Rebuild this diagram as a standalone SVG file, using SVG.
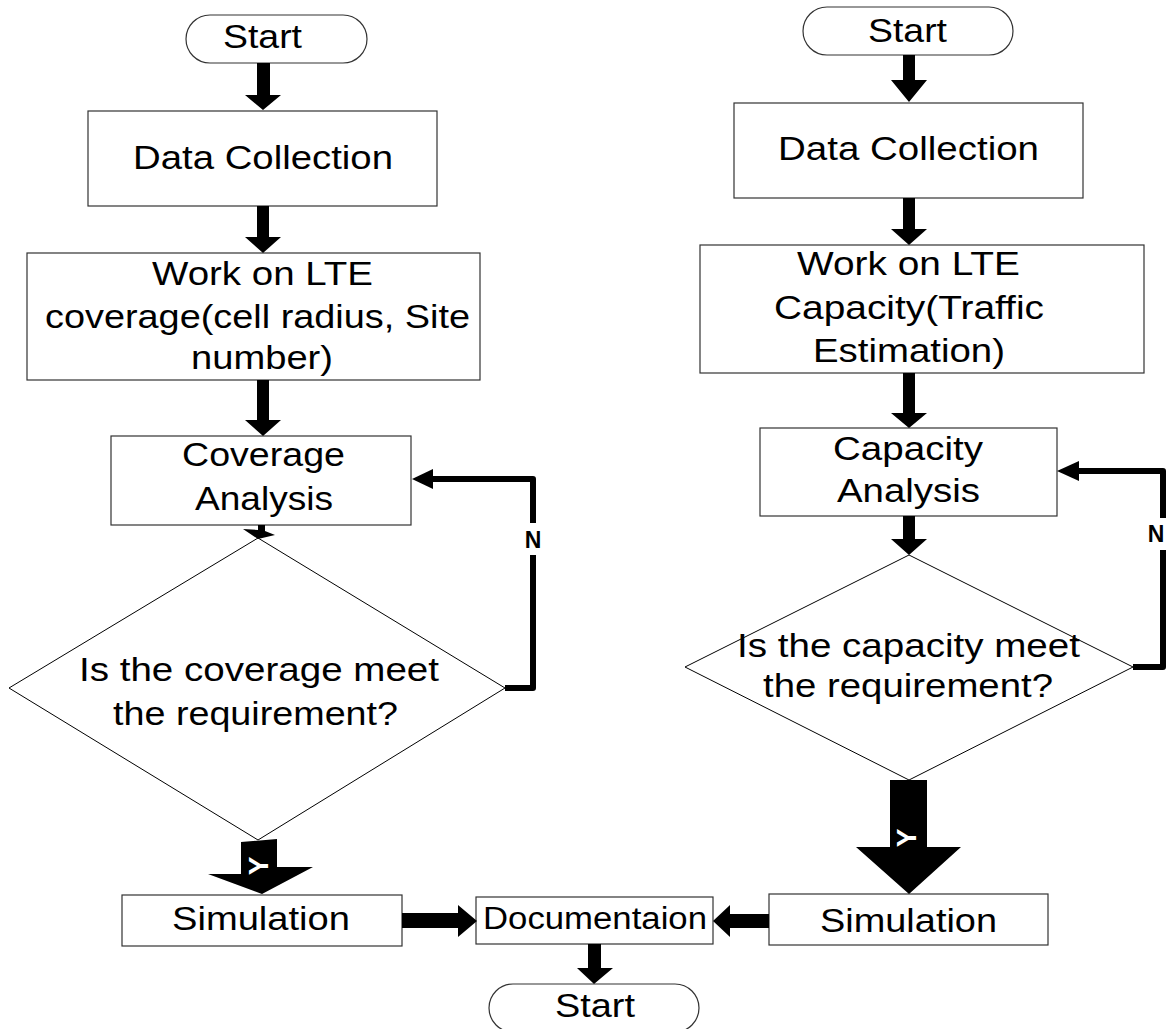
<svg xmlns="http://www.w3.org/2000/svg" width="1166" height="1029" viewBox="0 0 1166 1029">
<style>
.box{fill:#fff;stroke:#333;stroke-width:1.2}
.dia{fill:#fff;stroke:#000;stroke-width:1}
.t{font-family:"Liberation Sans",Arial,sans-serif;font-size:33px;fill:#000}
.lbl{font-family:"Liberation Sans",Arial,sans-serif;font-size:23px;font-weight:bold;fill:#000}
.yl{font-family:"Liberation Sans",Arial,sans-serif;font-size:28px;font-weight:bold;fill:#fff}
.ln{fill:none;stroke:#000;stroke-width:6;stroke-linejoin:round}
.ah{fill:#000}
</style>
<rect width="1166" height="1029" fill="#fff"/>

<g id="start-left"><rect class="box" x="186" y="15" width="181" height="48" rx="24"/><text class="t" x="223" y="48" textLength="79" lengthAdjust="spacingAndGlyphs">Start</text></g>
<g id="data-left"><rect class="box" x="88" y="111" width="349" height="95"/><text class="t" x="133" y="169" textLength="260" lengthAdjust="spacingAndGlyphs">Data Collection</text></g>
<g id="work-left"><rect class="box" x="27" y="253" width="453" height="127"/>
<text class="t" x="152" y="285" textLength="221" lengthAdjust="spacingAndGlyphs">Work on LTE</text>
<text class="t" x="45" y="328" textLength="425" lengthAdjust="spacingAndGlyphs">coverage(cell radius, Site</text>
<text class="t" x="191" y="369" textLength="142" lengthAdjust="spacingAndGlyphs">number)</text></g>
<g id="cov-analysis"><rect class="box" x="111" y="436" width="300" height="89"/>
<text class="t" x="182" y="466" textLength="163" lengthAdjust="spacingAndGlyphs">Coverage</text>
<text class="t" x="195" y="510" textLength="138" lengthAdjust="spacingAndGlyphs">Analysis</text></g>
<g id="cov-decision"><polygon class="dia" points="258,538 505,688 258,840 9,688"/>
<text class="t" x="79" y="681" textLength="360" lengthAdjust="spacingAndGlyphs">Is the coverage meet</text>
<text class="t" x="113" y="725" textLength="285" lengthAdjust="spacingAndGlyphs">the requirement?</text></g>
<g id="sim-left"><rect class="box" x="122" y="895" width="280" height="51"/><text class="t" x="172" y="930" textLength="178" lengthAdjust="spacingAndGlyphs">Simulation</text></g>

<g id="start-right"><rect class="box" x="803" y="7" width="210" height="48" rx="24"/><text class="t" x="868" y="42" textLength="79" lengthAdjust="spacingAndGlyphs">Start</text></g>
<g id="data-right"><rect class="box" x="734" y="103" width="349" height="95"/><text class="t" x="778" y="160" textLength="261" lengthAdjust="spacingAndGlyphs">Data Collection</text></g>
<g id="work-right"><rect class="box" x="700" y="245" width="444" height="128"/>
<text class="t" x="797" y="275" textLength="223" lengthAdjust="spacingAndGlyphs">Work on LTE</text>
<text class="t" x="774" y="319" textLength="270" lengthAdjust="spacingAndGlyphs">Capacity(Traffic</text>
<text class="t" x="813" y="362" textLength="192" lengthAdjust="spacingAndGlyphs">Estimation)</text></g>
<g id="cap-analysis"><rect class="box" x="760" y="428" width="297" height="88"/>
<text class="t" x="833" y="460" textLength="150" lengthAdjust="spacingAndGlyphs">Capacity</text>
<text class="t" x="837" y="502" textLength="143" lengthAdjust="spacingAndGlyphs">Analysis</text></g>
<g id="cap-decision"><polygon class="dia" points="909,555 1133,667 909,780 685,667"/>
<text class="t" x="737" y="657" textLength="343" lengthAdjust="spacingAndGlyphs">Is the capacity meet</text>
<text class="t" x="763" y="697" textLength="290" lengthAdjust="spacingAndGlyphs">the requirement?</text></g>
<g id="sim-right"><rect class="box" x="769" y="894" width="279" height="51"/><text class="t" x="820" y="932" textLength="177" lengthAdjust="spacingAndGlyphs">Simulation</text></g>

<g id="doc"><rect class="box" x="476" y="897" width="237" height="47"/><text class="t" x="483" y="929" style="font-size:31px" textLength="224" lengthAdjust="spacingAndGlyphs">Documentaion</text></g>
<g id="end"><rect class="box" x="489" y="984" width="210" height="48" rx="24"/><text class="t" x="555" y="1017" textLength="80" lengthAdjust="spacingAndGlyphs">Start</text></g>

<g id="connectors">
<polygon class="ah" points="257,63 270,63 270,95 281,95 263,110 245,95 257,95"/>
<polygon class="ah" points="257,206 269,206 269,237 281,237 263,253 245,237 257,237"/>
<polygon class="ah" points="257,380 269,380 269,420 281,420 263,436 245,420 257,420"/>
<polygon class="ah" points="258,525 265,525 265,531 275,535 258,539 243,529 258,530"/>
<polygon class="ah" points="241,842 277,839 277,867 313,867 262,894 208,874 241,874"/>
<text class="yl" transform="translate(258,866) rotate(-90)" text-anchor="middle" dominant-baseline="central">Y</text>
<path class="ln" d="M505,688 H533 V555"/>
<path class="ln" d="M533,523 V479 H433"/>
<polygon class="ah" points="433,469 433,489 412,479"/>
<text class="lbl" x="533" y="548" text-anchor="middle">N</text>
<polygon class="ah" points="903,55 915,55 915,80 927,80 909,102 891,80 903,80"/>
<polygon class="ah" points="903,198 915,198 915,229 927,229 909,245 891,229 903,229"/>
<polygon class="ah" points="903,373 915,373 915,413 927,413 909,428 891,413 903,413"/>
<polygon class="ah" points="903,516 915,516 915,539 927,539 909,555 891,539 903,539"/>
<polygon class="ah" points="890,780 927,780 927,847 961,847 909,894 856,847 890,847"/>
<text class="yl" transform="translate(906,838) rotate(-90)" text-anchor="middle" dominant-baseline="central">Y</text>
<path class="ln" d="M1133,667 H1163 V550"/>
<path class="ln" d="M1163,518 V471 H1079"/>
<polygon class="ah" points="1079,461 1079,481 1057,471"/>
<text class="lbl" x="1156" y="542" text-anchor="middle">N</text>
<polygon class="ah" points="402,913 458,913 458,905 477,921 458,937 458,928 402,928"/>
<polygon class="ah" points="769,914 730,914 730,905 713,921 730,937 730,928 769,928"/>
<polygon class="ah" points="588,944 601,944 601,968 613,968 594,984 577,968 588,968"/>
</g>
</svg>
